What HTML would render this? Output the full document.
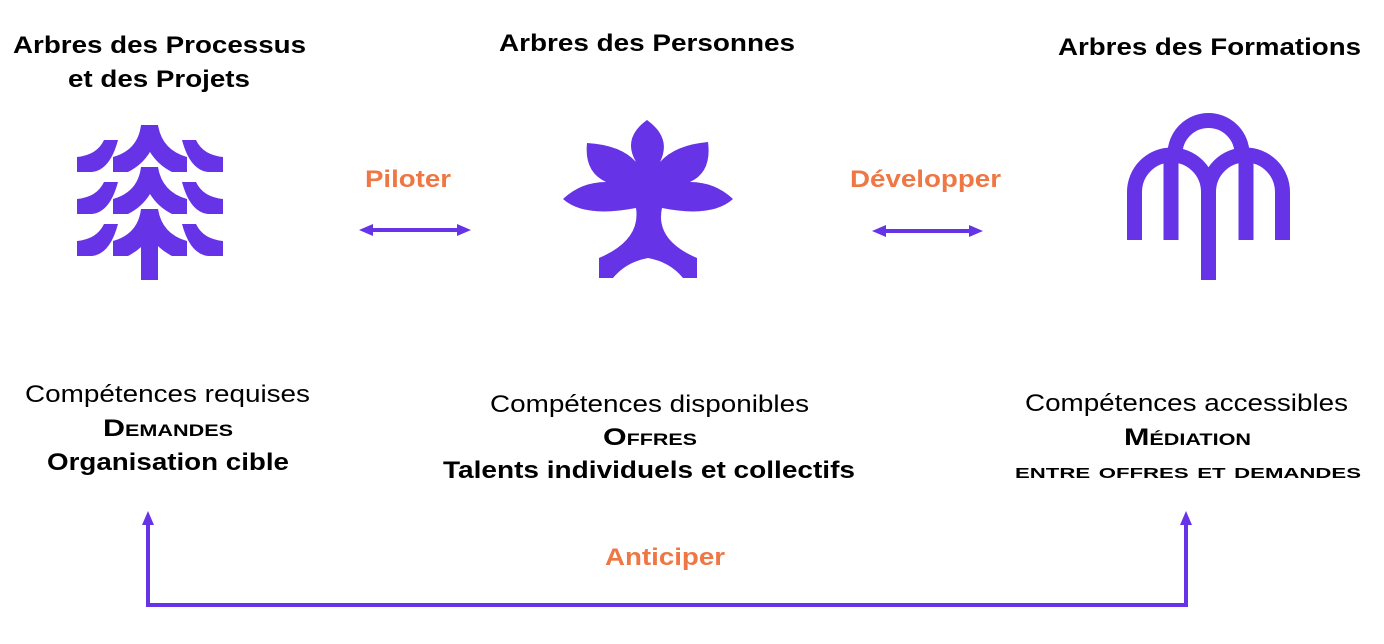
<!DOCTYPE html>
<html><head><meta charset="utf-8"><style>
html,body{margin:0;padding:0;background:#fff}
svg{display:block}
text{font-family:"Liberation Sans",Arial,sans-serif}
.h{font-weight:bold;font-size:24px;fill:#000}
.o{font-weight:bold;font-size:24px;fill:#ee7744}
.r{font-size:24px;fill:#000}
.b{font-weight:bold;font-size:24px;fill:#000}
.sc{font-weight:bold;font-size:24px;fill:#000;font-variant:small-caps}
</style></head><body>
<svg width="1384" height="644" viewBox="0 0 1384 644" xmlns="http://www.w3.org/2000/svg">
<defs>
<marker id="ah" markerWidth="14" markerHeight="12" refX="7" refY="6" orient="auto-start-reverse" markerUnits="userSpaceOnUse">
<path d="M0,0 L14,6 L0,12 Z" fill="#6633e6"/></marker>
</defs>
<text class="h" x="13" y="53" textLength="293" lengthAdjust="spacingAndGlyphs">Arbres des Processus</text>
<text class="h" x="68" y="87" textLength="182" lengthAdjust="spacingAndGlyphs">et des Projets</text>
<text class="h" x="499" y="51" textLength="296" lengthAdjust="spacingAndGlyphs">Arbres des Personnes</text>
<text class="h" x="1058" y="55" textLength="303" lengthAdjust="spacingAndGlyphs">Arbres des Formations</text>
<text class="o" x="365" y="187" textLength="86" lengthAdjust="spacingAndGlyphs">Piloter</text>
<text class="o" x="850" y="187" textLength="151" lengthAdjust="spacingAndGlyphs">Développer</text>
<text class="o" x="605" y="565" textLength="120" lengthAdjust="spacingAndGlyphs">Anticiper</text>
<text class="r" x="25" y="402" textLength="285" lengthAdjust="spacingAndGlyphs">Compétences requises</text>
<text class="sc" x="103" y="436" textLength="130" lengthAdjust="spacingAndGlyphs">Demandes</text>
<text class="b" x="47" y="470" textLength="242" lengthAdjust="spacingAndGlyphs">Organisation cible</text>
<text class="r" x="490" y="412" textLength="319" lengthAdjust="spacingAndGlyphs">Compétences disponibles</text>
<text class="sc" x="603" y="445" textLength="94" lengthAdjust="spacingAndGlyphs">Offres</text>
<text class="b" x="443" y="478" textLength="412" lengthAdjust="spacingAndGlyphs">Talents individuels et collectifs</text>
<text class="r" x="1025" y="411" textLength="323" lengthAdjust="spacingAndGlyphs">Compétences accessibles</text>
<text class="sc" x="1124" y="445" textLength="127" lengthAdjust="spacingAndGlyphs">Médiation</text>
<text class="sc" x="1015" y="478" textLength="346" lengthAdjust="spacingAndGlyphs" style="font-size:21px">entre offres et demandes</text>
<line x1="366" y1="230" x2="464" y2="230" stroke="#6633e6" stroke-width="4" marker-start="url(#ah)" marker-end="url(#ah)"/>
<line x1="879" y1="231" x2="976" y2="231" stroke="#6633e6" stroke-width="4" marker-start="url(#ah)" marker-end="url(#ah)"/>
<path d="M148,518 L148,605 L1186,605 L1186,518" fill="none" stroke="#6633e6" stroke-width="4" marker-start="url(#ah)" marker-end="url(#ah)"/>
<g fill="#6633e6">
<rect x="141" y="215" width="17" height="65"/>
<g id="tier">
<path d="M141,125 L158,125 Q162,150 187,157 L187,172 L172,172 Q158,165 150,152 Q142,165 128,172 L113,172 L113,157 Q138,150 141,125 Z"/>
<path d="M104,140 L118,140 Q110,170 92,172 L77,172 L77,157 Q97,155 104,140 Z"/>
<path d="M196,140 L182,140 Q190,170 208,172 L223,172 L223,157 Q203,155 196,140 Z"/>
</g>
<use href="#tier" y="42"/>
<use href="#tier" y="84"/>
</g>
<path fill="#6633e6" d="M636,162 Q622,138 647,120 Q672,138 660,162 Q675,145 708,142 Q712,172 690,182 Q715,182 733,199 Q712,218 662,208 Q655,240 697,258 L697,278 L683,278 Q670,262 648,258 Q626,262 613,278 L599,278 L599,258 Q641,240 636,208 Q584,218 563,199 Q581,182 606,182 Q584,172 587,143 Q621,145 636,162 Z"/>
<g fill="none" stroke="#6633e6" stroke-width="15">
<path d="M1134.5,240 L1134.5,192 A37,37 0 0 1 1208.5,192"/>
<path d="M1282.5,240 L1282.5,192 A37,37 0 0 0 1208.5,192"/>
<path d="M1171,240 L1171,160 L1175,154 A33.5,33.5 0 0 1 1242,154 L1246,160 L1246,240"/>
<path d="M1208.5,186 L1208.5,280"/>
</g>
</svg>
</body></html>
